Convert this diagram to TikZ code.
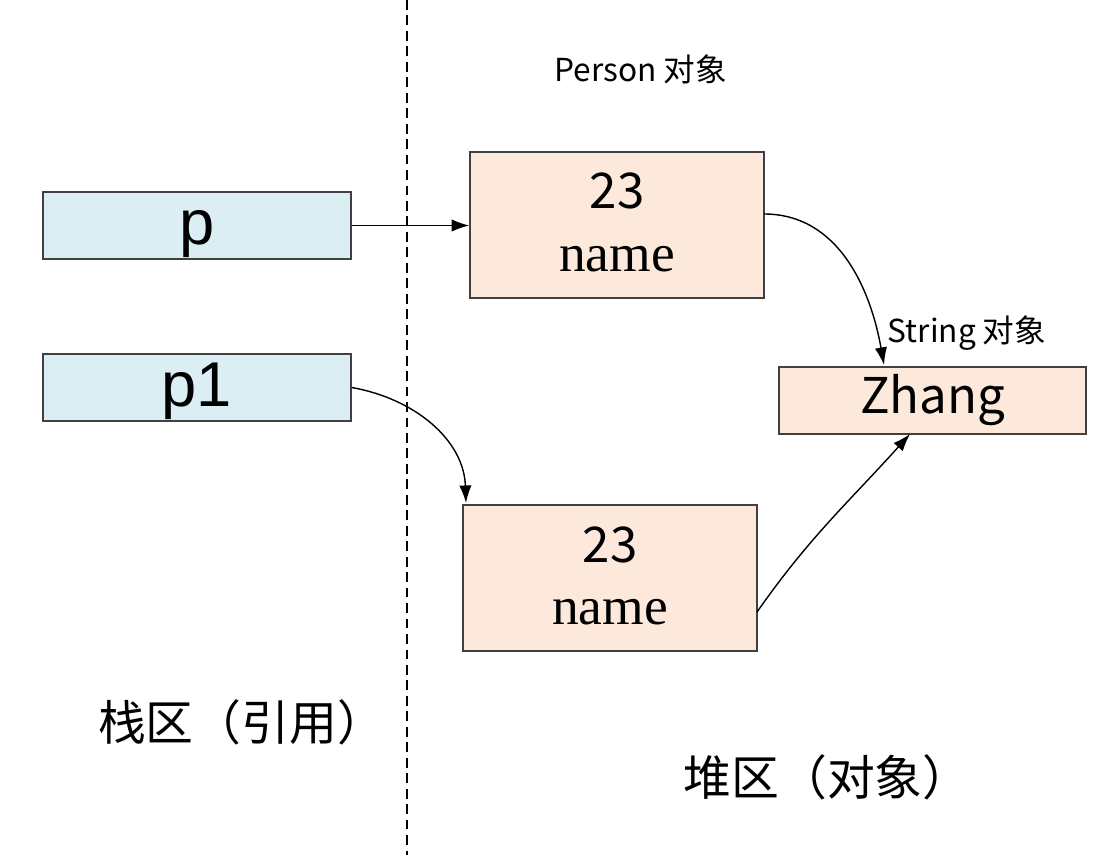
\documentclass[tikz,border=0pt]{standalone}
\usepackage{fontspec}
\setmainfont{Noto Sans CJK SC}
\newfontfamily\varfont{Liberation Sans}
\newfontfamily\namefont{Liberation Serif}
\usetikzlibrary{arrows.meta}
\definecolor{stackblue}{HTML}{DAEEF3}
\definecolor{heappeach}{HTML}{FCE9DC}
\definecolor{edgegray}{HTML}{404040}
\tikzset{
	stackbox/.style={draw=edgegray, fill=stackblue, minimum width=3.08cm, minimum height=0.67cm, inner sep=0pt,
		text height=0.38cm, text depth=0pt, font=\varfont\fontsize{18}{18}\selectfont},
	heapbox/.style={draw=edgegray, fill=heappeach, inner sep=0pt},
	num/.style={anchor=base, inner sep=0pt, font=\fontsize{14}{14}\selectfont},
	namelabel/.style={anchor=base, inner sep=0pt, font=\namefont\fontsize{15.2}{15.2}\selectfont},
	small/.style={anchor=base, inner sep=0pt, font=\fontsize{9}{9}\selectfont},
	region/.style={inner sep=0pt, font=\fontsize{13.6}{13.6}\selectfont},
	ref/.style={-{Latex[length=5pt,width=3.5pt]}, thin},
}

\begin{document}
\begin{tikzpicture}
	\useasboundingbox (0,0) rectangle (10.98,-8.55);
	\coordinate (top) at (4.07,0);
	\coordinate (bottom) at (4.07,-8.55);
	\draw [dashed, dash pattern=on 2.8pt off 1.6pt] (top)--(bottom);

	% stack side
	\node[stackbox] (p) at (1.97,-2.255) {p};
	\node[stackbox] (p1) at (1.97,-3.875) {p1};
	\node[region] (stack) at (2.415,-7.22) {栈区（引用）};

	% heap side
	\node[small] (personlbl) at (6.41,-0.82) {Person 对象};
	\node[heapbox, minimum width=2.94cm, minimum height=1.46cm] (obj1) at (6.17,-2.25) {};
	\node[num] (obj1age) at (6.17,-2.09) {23};
	\node[namelabel] (obj1name) at (6.17,-2.71) {name};
	\node[heapbox, minimum width=2.94cm, minimum height=1.46cm] (obj2) at (6.10,-5.78) {};
	\node[num] (obj2age) at (6.10,-5.62) {23};
	\node[namelabel] (obj2name) at (6.10,-6.24) {name};
	\node[small] (stringlbl) at (9.67,-3.43) {String 对象};
	\node[heapbox, minimum width=3.07cm, minimum height=0.67cm, text height=0.25cm, text depth=0pt,
		font=\fontsize{14}{14}\selectfont] (zhang) at (9.325,-4.005) {Zhang};
	\node[region] (heap) at (8.27,-7.77) {堆区（对象）};

	% references
	\coordinate (in2) at (4.66,-5.03);
	\coordinate (out1) at (7.64,-2.14);
	\coordinate (in3) at (8.84,-3.65);
	\coordinate (out4) at (7.57,-6.12);
	\coordinate (in4) at (9.10,-4.34);
	\draw[ref] (p.east)--(p.east -| obj1.west);
	\draw[ref] (p1.east) to[out=-10,in=92] (in2);
	\draw[ref] (out1) to[out=0,in=100] (in3);
	\draw[ref] (out4) to[out=55,in=-132] (in4);
\end{tikzpicture}
\end{document}
